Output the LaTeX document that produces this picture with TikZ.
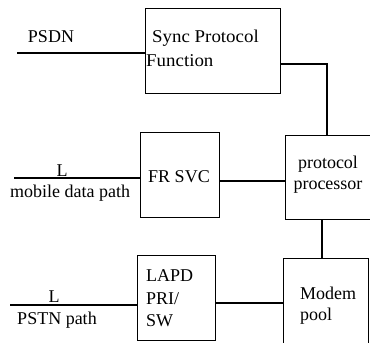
\documentclass[tikz,border=0pt]{standalone}
\usepackage{fontspec}
\setmainfont{Liberation Serif}
\begin{document}
\begin{tikzpicture}[x=1pt,y=-1pt,
  box/.style={draw, line width=1.1pt, inner sep=0pt, anchor=north west},
  lbl/.style={font=\fontsize{18}{21}\selectfont, inner sep=0pt},
  wire/.style={line width=1.1pt}]
\useasboundingbox (0,0) rectangle (370,343);
\clip (0,0) rectangle (370,343);
% boxes
\node[box, minimum width=135pt, minimum height=85pt] (sync) at (145,8) {};
\node[box, minimum width=79pt, minimum height=85pt] (frsvc) at (140,132) {};
\node[box, minimum width=92pt, minimum height=84pt] (proc) at (285,135) {};
\node[box, minimum width=78pt, minimum height=85pt] (lapd) at (137,255) {};
\node[box, minimum width=85pt, minimum height=92pt] (modem) at (283,258) {};
% texts
\node[lbl, anchor=west, xscale=1.05] (t1) at (152,38) {Sync Protocol};
\node[lbl, anchor=west, xscale=1.05] (t2) at (146,61) {Function};
\node[lbl] (t3) at (179,177) {FR SVC};
\node[lbl] (t4) at (328,164) {protocol};
\node[lbl] (t5) at (328,187) {processor};
\node[lbl, anchor=west] (t6) at (146,276) {LAPD};
\node[lbl, anchor=west] (t7) at (146,299) {PRI/};
\node[lbl, anchor=west] (t8) at (146,321) {SW};
\node[lbl, anchor=west] (t9) at (300,293) {Modem};
\node[lbl, anchor=west] (t10) at (300,316) {pool};
\node[lbl] (psdn) at (51,37) {PSDN};
\node[lbl] (l1) at (62,171) {L};
\node[lbl] (mob) at (70,193) {mobile data path};
\node[lbl] (l2) at (54,297) {L};
\node[lbl] (pstn) at (57,320) {PSTN path};
% free ends
\coordinate (a) at (17,53);
\coordinate (b) at (14,178);
\coordinate (c) at (10,305);
\coordinate (s1) at (280,64);
\coordinate (s2) at (327,64);
% connectors
\draw[wire] (a) -- (a -| sync.west);
\draw[wire] (b) -- (b -| frsvc.west);
\draw[wire] (c) -- (c -| lapd.west);
\draw[wire] (s1 -| sync.east) -- (s2) -- (s2 |- proc.north);
\draw[wire] (frsvc.east |- 0,181) -- (proc.west |- 0,181);
\draw[wire] (proc.south -| 322,0) -- (modem.north -| 322,0);
\draw[wire] (lapd.east |- 0,303) -- (modem.west |- 0,303);
\end{tikzpicture}
\end{document}
